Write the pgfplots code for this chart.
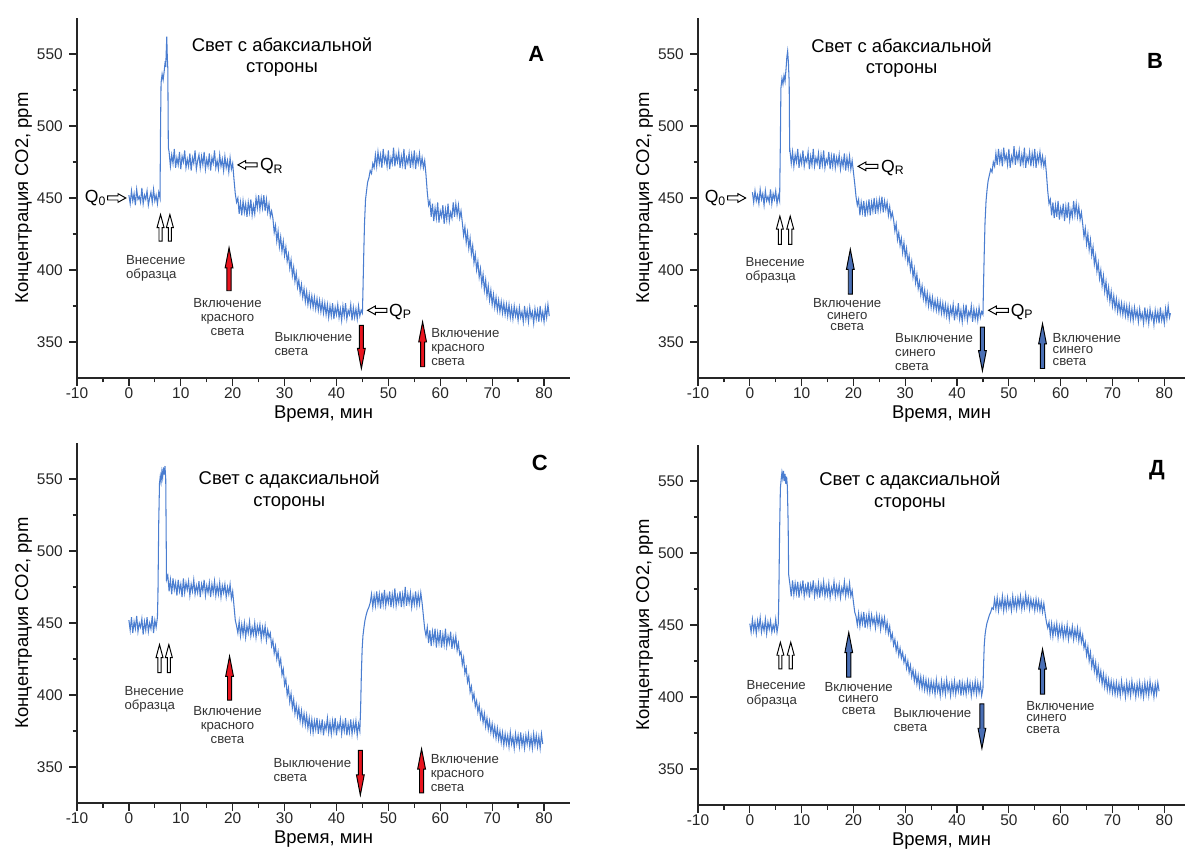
\documentclass[border=0pt]{standalone}
\usepackage{fontspec}
\setmainfont{Liberation Sans}
\usepackage{pgfplots}
\pgfplotsset{compat=1.18}

\definecolor{curve}{HTML}{4A7DD0}
\definecolor{redarr}{HTML}{E8141E}
\definecolor{bluearr}{HTML}{4A6FB5}

\pgfplotsset{
    panel/.style={
        scale only axis,
        height=7.2cm,
        xmin=-10, ymin=325, ymax=575,
        axis lines*=left,
        xtick={-10,0,...,80},
        ytick={350,400,...,550},
        minor x tick num=1, minor y tick num=1,
        tick align=outside,
        major tick length=0.16cm, minor tick length=0.09cm,
        tick style={line width=0.7pt, black!85},
        axis line style={line width=0.9pt, black!85},
        tick label style={font=\fontsize{8.8}{10}\selectfont, text=black!85},
        xticklabel style={yshift=2.5pt},
        /pgf/number format/assume math mode=true,
        xlabel={Время, мин},
        ylabel={Концентрация CO2, ppm},
        label style={font=\fontsize{10.5}{12}\selectfont},
        xlabel style={yshift=3pt},
        ylabel style={yshift=-4pt},
        clip=false,
    },
    sig/.style={curve, line width=0.6pt, no markers},
}
\tikzset{
    ann/.style={font=\fontsize{7.5}{8}\selectfont, text=black!80, inner sep=0pt},
    annb/.style={font=\fontsize{7.5}{6.6}\selectfont, text=black!80, inner sep=0pt},
    ttl/.style={font=\fontsize{10.5}{12.3}\selectfont, align=center, inner sep=0pt},
    lett/.style={font=\fontsize{12.5}{14}\selectfont\bfseries, inner sep=0pt},
    qlab/.style={font=\fontsize{10}{12}\selectfont, anchor=west, inner sep=0pt},
}

% vertical block arrow: x, tail y, tip y, shaft half-width, head half-width, head length (signed), fill
\newcommand{\varrow}[7]{%
    \draw[line width=0.55pt, fill=#7] (axis cs:{#1-#4},#2) -- (axis cs:{#1-#4},{#3-(#6)})
        -- (axis cs:{#1-#5},{#3-(#6)}) -- (axis cs:#1,#3) -- (axis cs:{#1+#5},{#3-(#6)})
        -- (axis cs:{#1+#4},{#3-(#6)}) -- (axis cs:{#1+#4},#2) -- cycle;}
% horizontal hollow arrow: tail x, tip x, y, head length (signed)
\newcommand{\harrow}[4]{%
    \draw[line width=0.55pt, fill=white] (axis cs:#1,{#3-1.4}) -- (axis cs:{#2-(#4)},{#3-1.4})
        -- (axis cs:{#2-(#4)},{#3-3}) -- (axis cs:#2,#3) -- (axis cs:{#2-(#4)},{#3+3})
        -- (axis cs:{#2-(#4)},{#3+1.4}) -- (axis cs:#1,{#3+1.4}) -- cycle;}

\begin{document}
\begin{tikzpicture}
\useasboundingbox (0,0) rectangle (23.7cm,17.08cm);

% ---------------- A ----------------
\begin{axis}[panel, at={(1.54cm,9.52cm)}, anchor=south west, width=9.86cm, xmax=85]
\addplot[sig] coordinates {
(0,452) (0.25,446) (0.5,455) (0.75,448) (1,453) (1.25,445) (1.5,456) (1.75,449) (2,451) (2.25,447) (2.5,457) (2.75,446) (3,452) (3.25,449) (3.5,455) (3.75,445) (4,450) (4.25,454) (4.5,447) (4.75,456) (5,448) (5.25,452) (5.5,446) (5.75,454) (6,450)
(6.1,500) (6.2,530) (6.4,536) (6.6,532) (6.8,538) (7.0,545) (7.1,541) (7.2,552) (7.3,562) (7.4,548) (7.5,540) (7.6,485)
(7.75,482) (8,472) (8.25,480) (8.5,474) (8.75,484) (9,471) (9.25,478) (9.5,473) (9.75,482) (10,470) (10.25,479) (10.5,475) (10.75,483) (11,471) (11.25,477) (11.5,472) (11.75,481) (12,469) (12.25,478) (12.5,474) (12.75,483) (13,470) (13.25,476) (13.5,480) (13.75,471) (14,479) (14.25,473) (14.5,482) (14.75,470) (15,477) (15.25,472) (15.5,481) (15.75,469) (16,478) (16.25,474) (16.5,483) (16.75,471) (17,476) (17.25,470) (17.5,480) (17.75,472) (18,477) (18.25,469) (18.5,479) (18.75,471) (19,476) (19.25,468) (19.5,478) (19.75,470) (20,474)
(20.25,463) (20.5,453) (20.75,447) (21,450)
(21.25,439) (21.5,447) (21.75,438) (22,448) (22.25,440) (22.5,446) (22.75,437) (23,447) (23.25,440) (23.5,449) (23.75,438) (24,445) (24.25,439) (24.5,450) (24.75,443) (25,452) (25.25,442) (25.5,450) (25.75,443) (26,452) (26.25,441) (26.5,449) (26.75,440) (27,446) (27.25,437) (27.5,441)
(27.75,436) (28,426) (28.25,431) (28.5,420) (28.75,427) (29,416) (29.25,423) (29.5,413) (29.75,420) (30,410) (30.25,416) (30.5,406) (30.75,411) (31,401) (31.25,407) (31.5,396) (31.75,402) (32,392) (32.25,398) (32.5,388) (32.75,393) (33,384) (33.25,390) (33.5,381) (33.75,387) (34,378) (34.25,385) (34.5,376) (34.75,383) (35,375) (35.25,382) (35.5,374) (35.75,381) (36,373) (36.25,380) (36.5,372) (36.75,379) (37,371) (37.25,378) (37.5,370) (37.75,377)
(38,369) (38.25,376) (38.5,367) (38.75,375) (39,368) (39.25,377) (39.5,366) (39.75,374) (40,369) (40.25,376) (40.5,367) (40.75,373) (41,365) (41.25,375) (41.5,368) (41.75,377) (42,366) (42.25,372) (42.5,369) (42.75,376) (43,365) (43.25,374) (43.5,367) (43.75,373) (44,366) (44.25,375) (44.5,368) (44.75,372)
(45,370) (45.1,385) (45.25,410) (45.4,432) (45.6,449) (45.8,455) (46,461) (46.25,464) (46.5,469) (46.75,467) (47,474) (47.25,471)
(47.5,480) (47.75,472) (48,482) (48.25,474) (48.5,480) (48.75,471) (49,484) (49.25,475) (49.5,479) (49.75,472) (50,483) (50.25,470) (50.5,478) (50.75,474) (51,485) (51.25,472) (51.5,480) (51.75,475) (52,482) (52.25,471) (52.5,479) (52.75,473) (53,484) (53.25,470) (53.5,478) (53.75,474) (54,481) (54.25,471) (54.5,480) (54.75,473) (55,483) (55.25,470) (55.5,479) (55.75,474) (56,481) (56.25,472) (56.5,478) (56.75,471) (57,476)
(57.25,466) (57.5,454) (57.75,445)
(58,448) (58.25,437) (58.5,446) (58.75,434) (59,443) (59.25,436) (59.5,447) (59.75,433) (60,441) (60.25,437) (60.5,445) (60.75,432) (61,442) (61.25,435) (61.5,446) (61.75,434) (62,440) (62.25,436) (62.5,447) (62.75,437) (63,446) (63.25,438) (63.5,445) (63.75,436) (64,441)
(64.25,433) (64.5,424) (64.75,430) (65,419) (65.25,426) (65.5,415) (65.75,422) (66,411) (66.25,417) (66.5,405) (66.75,411) (67,400) (67.25,406) (67.5,395) (67.75,401) (68,390) (68.25,397) (68.5,386) (68.75,393) (69,382) (69.25,389) (69.5,379) (69.75,386) (70,376) (70.25,383) (70.5,374) (70.75,381) (71,372) (71.25,379) (71.5,371) (71.75,378) (72,370) (72.25,377) (72.5,369) (72.75,376) (73,368) (73.25,376)
(73.5,367) (73.75,374) (74,366) (74.25,375) (74.5,368) (74.75,373) (75,365) (75.25,374) (75.5,367) (75.75,371) (76,364) (76.25,375) (76.5,366) (76.75,372) (77,364) (77.25,374) (77.5,367) (77.75,371) (78,363) (78.25,373) (78.5,366) (78.75,372) (79,364) (79.25,375) (79.5,366) (79.75,371) (80,364) (80.25,374) (80.5,367) (80.75,376) (81,368)
};
\node[ttl] at (axis cs:29.5,548) {Свет с абаксиальной\\стороны};
\node[lett] at (axis cs:78.5,550) {A};
\node[qlab, anchor=east] at (axis cs:-4.3,450) {Q\textsubscript{0}};
\harrow{-4.1}{-0.6}{450}{1.5}
\harrow{24.7}{21}{473}{-1.5}
\node[qlab] at (axis cs:25.2,472) {Q\textsubscript{R}};
\harrow{49.7}{46}{372}{-1.5}
\node[qlab] at (axis cs:50.1,371) {Q\textsubscript{P}};
\varrow{6.1}{420}{438.5}{0.3}{0.67}{9}{white}
\varrow{7.9}{420}{438.5}{0.3}{0.67}{9}{white}
\varrow{19.3}{385.6}{415.5}{0.4}{0.75}{14}{redarr}
\varrow{44.8}{361.5}{331.6}{0.4}{0.75}{-14}{redarr}
\varrow{56.6}{332.8}{364}{0.4}{0.75}{14}{redarr}
\node[ann, anchor=west, align=left] at (axis cs:-0.6,401) {Внесение\\образца};
\node[ann, align=center] at (axis cs:19,367.5) {Включение\\красного\\света};
\node[ann, anchor=west, align=left] at (axis cs:28.0,348.7) {Выключение\\света};
\node[ann, anchor=west, align=left] at (axis cs:58.2,346.4) {Включение\\красного\\света};
\end{axis}

% ---------------- B ----------------
\begin{axis}[panel, at={(13.96cm,9.52cm)}, anchor=south west, width=9.74cm, xmax=84]
\addplot[sig] coordinates {
(0.5,454) (0.75,447) (1,455) (1.25,448) (1.5,452) (1.75,446) (2,456) (2.25,449) (2.5,453) (2.75,445) (3,455) (3.25,448) (3.5,451) (3.75,447) (4,456) (4.25,446) (4.5,453) (4.75,449) (5,455) (5.25,446) (5.5,452) (5.75,448)
(5.9,490) (6.0,526) (6.2,533) (6.4,529) (6.6,535) (6.8,531) (7.0,540) (7.15,548) (7.3,552) (7.45,544) (7.6,530) (7.7,482)
(7.75,483) (8,474) (8.25,482) (8.5,472) (8.75,480) (9,475) (9.25,484) (9.5,471) (9.75,479) (10,474) (10.25,483) (10.5,472) (10.75,478) (11,475) (11.25,482) (11.5,470) (11.75,479) (12,473) (12.25,484) (12.5,472) (12.75,478) (13,474) (13.25,481) (13.5,470) (13.75,480) (14,473) (14.25,483) (14.5,471) (14.75,477) (15,474) (15.25,482) (15.5,470) (15.75,479) (16,472) (16.25,481) (16.5,471) (16.75,478) (17,473) (17.25,480) (17.5,470) (17.75,477) (18,472) (18.25,481) (18.5,469) (18.75,478) (19,471) (19.25,479) (19.5,470) (19.75,476) (20,468)
(20.25,460) (20.5,451) (20.75,445) (21,449)
(21.25,438) (21.5,447) (21.75,440) (22,448) (22.25,437) (22.5,446) (22.75,440) (23,449) (23.25,438) (23.5,447) (23.75,441) (24,450) (24.25,439) (24.5,448) (24.75,441) (25,449) (25.25,442) (25.5,451) (25.75,440) (26,448) (26.25,442) (26.5,447) (26.75,438) (27,444) (27.25,436) (27.5,440)
(27.75,435) (28,427) (28.25,432) (28.5,421) (28.75,426) (29,417) (29.25,422) (29.5,412) (29.75,419) (30,409) (30.25,415) (30.5,405) (30.75,410) (31,400) (31.25,406) (31.5,395) (31.75,401) (32,391) (32.25,397) (32.5,387) (32.75,392) (33,383) (33.25,389) (33.5,380) (33.75,386) (34,377) (34.25,384) (34.5,375) (34.75,382) (35,374) (35.25,381) (35.5,373) (35.75,379) (36,372) (36.25,379) (36.5,371) (36.75,378) (37,370) (37.25,377) (37.5,369) (37.75,376)
(38,368) (38.25,375) (38.5,366) (38.75,374) (39,369) (39.25,376) (39.5,365) (39.75,373) (40,368) (40.25,377) (40.5,366) (40.75,372) (41,364) (41.25,374) (41.5,367) (41.75,376) (42,365) (42.25,371) (42.5,368) (42.75,375) (43,364) (43.25,373) (43.5,366) (43.75,372) (44,365) (44.25,374) (44.5,367) (44.75,371) (45,369)
(45.1,388) (45.25,412) (45.4,433) (45.6,448) (45.8,456) (46,462) (46.25,466) (46.5,470) (46.75,468) (47,475) (47.25,472)
(47.5,481) (47.75,473) (48,484) (48.25,475) (48.5,481) (48.75,472) (49,485) (49.25,476) (49.5,480) (49.75,473) (50,484) (50.25,471) (50.5,479) (50.75,475) (51,486) (51.25,473) (51.5,481) (51.75,476) (52,483) (52.25,472) (52.5,480) (52.75,474) (53,485) (53.25,471) (53.5,479) (53.75,475) (54,482) (54.25,472) (54.5,481) (54.75,474) (55,484) (55.25,471) (55.5,480) (55.75,475) (56,482) (56.25,473) (56.5,479) (56.75,472) (57,477)
(57.25,467) (57.5,455) (57.75,446)
(58,449) (58.25,438) (58.5,447) (58.75,436) (59,445) (59.25,437) (59.5,448) (59.75,435) (60,443) (60.25,438) (60.5,446) (60.75,434) (61,444) (61.25,436) (61.5,447) (61.75,435) (62,442) (62.25,437) (62.5,448) (62.75,438) (63,446) (63.25,437) (63.5,444) (63.75,435) (64,440)
(64.25,432) (64.5,423) (64.75,429) (65,418) (65.25,425) (65.5,414) (65.75,421) (66,410) (66.25,416) (66.5,404) (66.75,410) (67,399) (67.25,405) (67.5,394) (67.75,400) (68,389) (68.25,396) (68.5,385) (68.75,392) (69,381) (69.25,388) (69.5,378) (69.75,385) (70,375) (70.25,382) (70.5,373) (70.75,380) (71,371) (71.25,378) (71.5,370) (71.75,377) (72,369) (72.25,376) (72.5,368) (72.75,375) (73,367) (73.25,375)
(73.5,366) (73.75,373) (74,365) (74.25,374) (74.5,367) (74.75,372) (75,364) (75.25,373) (75.5,366) (75.75,370) (76,363) (76.25,374) (76.5,365) (76.75,371) (77,363) (77.25,373) (77.5,366) (77.75,370) (78,362) (78.25,372) (78.5,365) (78.75,371) (79,363) (79.25,374) (79.5,365) (79.75,370) (80,363) (80.25,373) (80.5,366) (80.75,375) (81,367) (81.2,370)
};
\node[ttl] at (axis cs:29.3,547.3) {Свет с абаксиальной\\стороны};
\node[lett] at (axis cs:78.2,545) {B};
\node[qlab, anchor=east] at (axis cs:-4.5,450) {Q\textsubscript{0}};
\harrow{-4.3}{-0.8}{450}{1.5}
\harrow{24.7}{20.9}{472}{-1.5}
\node[qlab] at (axis cs:25.3,471) {Q\textsubscript{R}};
\harrow{49.9}{46.1}{372}{-1.5}
\node[qlab] at (axis cs:50.3,371) {Q\textsubscript{P}};
\varrow{5.8}{417.8}{437.4}{0.3}{0.67}{9}{white}
\varrow{7.8}{417.8}{437.4}{0.3}{0.67}{9}{white}
\varrow{19.4}{383.3}{414.4}{0.4}{0.75}{14}{bluearr}
\varrow{44.9}{360.3}{330}{0.4}{0.75}{-14}{bluearr}
\varrow{56.5}{331.6}{362.7}{0.4}{0.75}{14}{bluearr}
\node[ann, anchor=west, align=left] at (axis cs:-0.9,400) {Внесение\\образца};
\node[annb, align=center] at (axis cs:18.8,369) {Включение\\синего\\света};
\node[ann, anchor=west, align=left] at (axis cs:28.0,343.2) {Выключение\\синего\\света};
\node[annb, anchor=west, align=left] at (axis cs:58.4,345) {Включение\\синего\\света};
\end{axis}

% ---------------- C ----------------
\begin{axis}[panel, at={(1.54cm,1.02cm)}, anchor=south west, width=9.86cm, xmax=85]
\addplot[sig] coordinates {
(0,452) (0.25,445) (0.5,454) (0.75,443) (1,451) (1.25,446) (1.5,455) (1.75,444) (2,450) (2.25,447) (2.5,453) (2.75,442) (3,451) (3.25,445) (3.5,454) (3.75,444) (4,450) (4.25,446) (4.5,455) (4.75,443) (5,452) (5.25,447) (5.5,454)
(5.6,470) (5.75,520) (5.9,547) (6.05,552) (6.2,548) (6.35,555) (6.5,551) (6.65,558) (6.8,553) (6.95,559) (7.1,550) (7.25,480)
(7.5,483) (7.75,472) (8,480) (8.25,470) (8.5,481) (8.75,473) (9,478) (9.25,469) (9.5,480) (9.75,472) (10,477) (10.25,468) (10.5,481) (10.75,471) (11,478) (11.25,473) (11.5,479) (11.75,469) (12,477) (12.25,472) (12.5,480) (12.75,470) (13,476) (13.25,471) (13.5,479) (13.75,468) (14,477) (14.25,472) (14.5,480) (14.75,469) (15,476) (15.25,471) (15.5,478) (15.75,468) (16,477) (16.25,471) (16.5,479) (16.75,469) (17,476) (17.25,470) (17.5,478) (17.75,468) (18,476) (18.25,471) (18.5,477) (18.75,468) (19,475) (19.25,470) (19.5,477) (19.75,467) (20,472)
(20.25,462) (20.5,452) (20.75,448)
(21,443) (21.25,451) (21.5,441) (21.75,449) (22,442) (22.25,450) (22.5,440) (22.75,448) (23,443) (23.25,451) (23.5,441) (23.75,447) (24,442) (24.25,450) (24.5,440) (24.75,448) (25,443) (25.25,449) (25.5,439) (25.75,447) (26,441) (26.25,448) (26.5,438) (26.75,445) (27,440)
(27.25,443) (27.5,434) (27.75,438) (28,429) (28.25,434) (28.5,425) (28.75,430) (29,421) (29.25,425) (29.5,414) (29.75,418) (30,407) (30.25,411) (30.5,400) (30.75,405) (31,395) (31.25,401) (31.5,391) (31.75,397) (32,387) (32.25,393) (32.5,385) (32.75,391) (33,382) (33.25,389) (33.5,380) (33.75,387) (34,379) (34.25,386) (34.5,377) (34.75,384)
(35,375) (35.25,383) (35.5,374) (35.75,382) (36,376) (36.25,384) (36.5,373) (36.75,381) (37,375) (37.25,383) (37.5,372) (37.75,380) (38,376) (38.25,384) (38.5,374) (38.75,381) (39,373) (39.25,382) (39.5,375) (39.75,384) (40,372) (40.25,380) (40.5,376) (40.75,383) (41,373) (41.25,381) (41.5,375) (41.75,384) (42,372) (42.25,380) (42.5,374) (42.75,383) (43,373) (43.25,381) (43.5,375) (43.75,382) (44,372) (44.25,380) (44.5,375)
(44.65,390) (44.8,415) (44.95,432) (45.1,441) (45.3,447) (45.5,452) (45.75,456) (46,459) (46.25,461) (46.5,464)
(46.75,470) (47,461) (47.25,469) (47.5,462) (47.75,472) (48,463) (48.25,470) (48.5,460) (48.75,471) (49,463) (49.25,473) (49.5,462) (49.75,469) (50,464) (50.25,472) (50.5,461) (50.75,470) (51,463) (51.25,474) (51.5,462) (51.75,469) (52,464) (52.25,472) (52.5,461) (52.75,470) (53,463) (53.25,475) (53.5,462) (53.75,470) (54,464) (54.25,471) (54.5,461) (54.75,469) (55,463) (55.25,472) (55.5,462) (55.75,470) (56,463) (56.25,471) (56.5,464)
(56.75,455) (57,446) (57.25,441)
(57.5,447) (57.75,436) (58,445) (58.25,434) (58.5,444) (58.75,437) (59,446) (59.25,433) (59.5,443) (59.75,436) (60,445) (60.25,433) (60.5,442) (60.75,435) (61,446) (61.25,434) (61.5,441) (61.75,436) (62,444) (62.25,432) (62.5,440) (62.75,434) (63,441) (63.25,431)
(63.5,436) (63.75,428) (64,430) (64.25,421) (64.5,426) (64.75,415) (65,419) (65.25,409) (65.5,413) (65.75,402) (66,406) (66.25,397) (66.5,401) (66.75,392) (67,396) (67.25,388) (67.5,393) (67.75,384) (68,389) (68.25,381) (68.5,387) (68.75,378) (69,384) (69.25,376) (69.5,382) (69.75,374) (70,380) (70.25,372) (70.5,378) (70.75,370) (71,377) (71.25,369) (71.5,375) (71.75,367) (72,374)
(72.25,365) (72.5,373) (72.75,366) (73,372) (73.25,364) (73.5,374) (73.75,366) (74,371) (74.25,363) (74.5,373) (74.75,366) (75,372) (75.25,364) (75.5,374) (75.75,365) (76,371) (76.25,363) (76.5,372) (76.75,366) (77,373) (77.25,364) (77.5,371) (77.75,363) (78,373) (78.25,365) (78.5,372) (78.75,364) (79,371) (79.25,363) (79.5,373) (79.75,366)
};
\node[ttl] at (axis cs:30.9,541.8) {Свет с адаксиальной\\стороны};
\node[lett] at (axis cs:79.2,561.5) {C};
\varrow{5.9}{415.5}{435}{0.3}{0.67}{9}{white}
\varrow{7.7}{415.5}{435}{0.3}{0.67}{9}{white}
\varrow{19.4}{396.4}{427}{0.4}{0.75}{14}{redarr}
\varrow{44.6}{361.5}{330.5}{0.4}{0.75}{-14}{redarr}
\varrow{56.4}{332}{362.6}{0.4}{0.75}{14}{redarr}
\node[ann, anchor=west, align=left] at (axis cs:-0.9,397.3) {Внесение\\образца};
\node[ann, align=center] at (axis cs:19,379.4) {Включение\\красного\\света};
\node[ann, anchor=west, align=left] at (axis cs:27.8,348) {Выключение\\света};
\node[ann, anchor=west, align=left] at (axis cs:58.1,345.6) {Включение\\красного\\света};
\end{axis}

% ---------------- D ----------------
\begin{axis}[panel, at={(13.96cm,0.98cm)}, anchor=south west, width=9.74cm, xmax=84]
\addplot[sig] coordinates {
(0,451) (0.25,445) (0.5,454) (0.75,446) (1,452) (1.25,444) (1.5,453) (1.75,447) (2,455) (2.25,445) (2.5,451) (2.75,446) (3,454) (3.25,444) (3.5,452) (3.75,447) (4,453) (4.25,445) (4.5,450) (4.75,446) (5,454) (5.25,445) (5.5,451)
(5.6,470) (5.75,515) (5.9,545) (6.05,551) (6.2,556) (6.35,552) (6.5,557) (6.65,550) (6.8,555) (6.95,548) (7.1,553) (7.25,546) (7.4,520) (7.5,485)
(7.75,478) (8,470) (8.25,481) (8.5,471) (8.75,479) (9,472) (9.25,480) (9.5,469) (9.75,478) (10,473) (10.25,481) (10.5,470) (10.75,477) (11,472) (11.25,480) (11.5,469) (11.75,478) (12,473) (12.25,481) (12.5,470) (12.75,477) (13,471) (13.25,479) (13.5,469) (13.75,478) (14,472) (14.25,480) (14.5,470) (14.75,477) (15,471) (15.25,479) (15.5,469) (15.75,476) (16,472) (16.25,480) (16.5,470) (16.75,477) (17,471) (17.25,478) (17.5,469) (17.75,476) (18,472) (18.25,480) (18.5,470) (18.75,477) (19,471) (19.25,479) (19.5,470) (19.75,474)
(20,466) (20.25,459) (20.5,456)
(20.75,450) (21,458) (21.25,449) (21.5,457) (21.75,451) (22,459) (22.25,448) (22.5,456) (22.75,450) (23,458) (23.25,449) (23.5,457) (23.75,451) (24,455) (24.25,448) (24.5,457) (24.75,450) (25,456) (25.25,447) (25.5,455) (25.75,449) (26,455) (26.25,446) (26.5,452)
(26.75,444) (27,449) (27.25,440) (27.5,444) (27.75,436) (28,440) (28.25,432) (28.5,437) (28.75,429) (29,434) (29.25,427) (29.5,431) (29.75,424) (30,428) (30.25,420) (30.5,425) (30.75,417) (31,422) (31.25,414) (31.5,419) (31.75,411) (32,417) (32.25,409) (32.5,415) (32.75,407) (33,414) (33.25,406) (33.5,413) (33.75,405) (34,412) (34.25,404) (34.5,411)
(34.75,403) (35,411) (35.25,404) (35.5,410) (35.75,402) (36,412) (36.25,404) (36.5,409) (36.75,401) (37,411) (37.25,403) (37.5,410) (37.75,402) (38,412) (38.25,404) (38.5,409) (38.75,401) (39,410) (39.25,403) (39.5,411) (39.75,402) (40,409) (40.25,404) (40.5,412) (40.75,401) (41,410) (41.25,403) (41.5,409) (41.75,402) (42,411) (42.25,404) (42.5,410) (42.75,401) (43,409) (43.25,403) (43.5,411) (43.75,402) (44,410) (44.25,403) (44.5,409) (44.75,401) (45,406)
(45.1,420) (45.25,436) (45.4,443) (45.55,447) (45.75,451) (46,454) (46.25,457) (46.5,459) (46.75,462) (47,461)
(47.25,468) (47.5,461) (47.75,469) (48,460) (48.25,467) (48.5,462) (48.75,470) (49,460) (49.25,468) (49.5,461) (49.75,469) (50,462) (50.25,467) (50.5,460) (50.75,470) (51,462) (51.25,468) (51.5,461) (51.75,469) (52,463) (52.25,470) (52.5,461) (52.75,468) (53,462) (53.25,471) (53.5,463) (53.75,469) (54,461) (54.25,468) (54.5,462) (54.75,467) (55,460) (55.25,468) (55.5,461) (55.75,467) (56,460) (56.25,466) (56.5,459) (56.75,465)
(57,458) (57.25,452) (57.5,448)
(57.75,452) (58,443) (58.25,451) (58.5,442) (58.75,450) (59,444) (59.25,451) (59.5,441) (59.75,449) (60,443) (60.25,450) (60.5,441) (60.75,448) (61,442) (61.25,450) (61.5,440) (61.75,447) (62,442) (62.25,449) (62.5,440) (62.75,447) (63,441) (63.25,448) (63.5,439) (63.75,446) (64,438)
(64.25,443) (64.5,434) (64.75,438) (65,429) (65.25,435) (65.5,425) (65.75,431) (66,421) (66.25,427) (66.5,418) (66.75,424) (67,414) (67.25,421) (67.5,412) (67.75,418) (68,409) (68.25,416) (68.5,407) (68.75,414) (69,405) (69.25,412) (69.5,404) (69.75,411) (70,403) (70.25,410) (70.5,402)
(70.75,410) (71,402) (71.25,409) (71.5,401) (71.75,411) (72,403) (72.25,408) (72.5,400) (72.75,410) (73,402) (73.25,409) (73.5,401) (73.75,411) (74,403) (74.25,408) (74.5,400) (74.75,409) (75,402) (75.25,410) (75.5,401) (75.75,408) (76,400) (76.25,410) (76.5,402) (76.75,409) (77,401) (77.25,411) (77.5,403) (77.75,408) (78,400) (78.25,409) (78.5,402) (78.75,410) (79,404)
};
\node[ttl] at (axis cs:30.9,542.6) {Свет с адаксиальной\\стороны};
\node[lett] at (axis cs:78.6,557.6) {Д};
\varrow{5.9}{419.5}{438}{0.3}{0.67}{9}{white}
\varrow{7.9}{419.5}{438}{0.3}{0.67}{9}{white}
\varrow{19.1}{413.8}{444.8}{0.4}{0.75}{14}{bluearr}
\varrow{44.8}{395.3}{364.3}{0.4}{0.75}{-14}{bluearr}
\varrow{56.5}{402}{433.3}{0.4}{0.75}{14}{bluearr}
\node[ann, anchor=west, align=left] at (axis cs:-0.7,402.2) {Внесение\\образца};
\node[annb, align=center] at (axis cs:21,399) {Включение\\синего\\света};
\node[ann, anchor=west, align=left] at (axis cs:27.7,384) {Выключение\\света};
\node[annb, anchor=west, align=left] at (axis cs:53.3,386) {Включение\\синего\\света};
\end{axis}
\end{tikzpicture}
\end{document}
